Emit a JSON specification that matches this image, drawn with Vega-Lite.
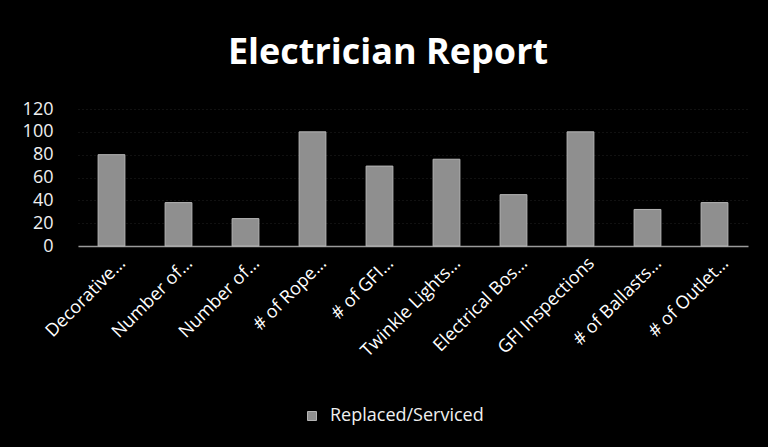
{
  "$schema": "https://vega.github.io/schema/vega-lite/v6.json",
  "autosize": "none",
  "width": 670,
  "height": 137,
  "padding": {"left": 78, "top": 109, "right": 20, "bottom": 201},
  "background": "#000000",
  "title": {
    "text": "Electrician Report",
    "color": "#ffffff",
    "font": "Open Sans",
    "fontSize": 36,
    "fontWeight": "bold",
    "anchor": "middle",
    "dx": -25,
    "offset": 28
  },
  "data": {
    "values": [
      {"item": "Decorative…", "count": 80, "series": "Replaced/Serviced"},
      {"item": "Number of…", "count": 38, "series": "Replaced/Serviced"},
      {"item": "Number of…\u200b", "count": 24, "series": "Replaced/Serviced"},
      {"item": "# of Rope…", "count": 100, "series": "Replaced/Serviced"},
      {"item": "# of GFI…", "count": 70, "series": "Replaced/Serviced"},
      {"item": "Twinkle Lights…", "count": 76, "series": "Replaced/Serviced"},
      {"item": "Electrical Bos…", "count": 45, "series": "Replaced/Serviced"},
      {"item": "GFI Inspections", "count": 100, "series": "Replaced/Serviced"},
      {"item": "# of Ballasts…", "count": 32, "series": "Replaced/Serviced"},
      {"item": "# of Outlet…", "count": 38, "series": "Replaced/Serviced"}
    ]
  },
  "mark": {"type": "bar", "stroke": "#b5b5b5", "strokeWidth": 1},
  "encoding": {
    "x": {
      "field": "item",
      "type": "nominal",
      "sort": null,
      "scale": {"paddingInner": 0.6, "paddingOuter": 0.3},
      "axis": {
        "title": null,
        "labelAngle": -45,
        "labelFont": "Open Sans",
        "labelFontSize": 18,
        "labelColor": "#ffffff",
        "labelPadding": 8,
        "labelOffset": 5,
        "ticks": false,
        "domainColor": "#9a9a9a",
        "domainWidth": 1.5,
        "labelLimit": 300
      }
    },
    "y": {
      "field": "count",
      "type": "quantitative",
      "scale": {"domain": [0, 120]},
      "axis": {
        "title": null,
        "values": [0, 20, 40, 60, 80, 100, 120],
        "labelFont": "Open Sans",
        "labelFontSize": 18,
        "labelColor": "#f0f0f0",
        "labelPadding": 25,
        "ticks": false,
        "domain": false,
        "gridColor": "#222222",
        "gridDash": [1, 3]
      }
    },
    "color": {
      "field": "series",
      "type": "nominal",
      "scale": {"range": ["#8f8f8f"]},
      "legend": {
        "title": null,
        "orient": "none",
        "legendX": 225,
        "legendY": 298,
        "symbolType": "square",
        "symbolSize": 81,
        "symbolStrokeColor": "#b5b5b5",
        "symbolStrokeWidth": 1,
        "labelFont": "Open Sans",
        "labelFontSize": 18,
        "labelColor": "#f0f0f0",
        "labelOffset": 9
      }
    }
  },
  "config": {"view": {"stroke": null}}
}
